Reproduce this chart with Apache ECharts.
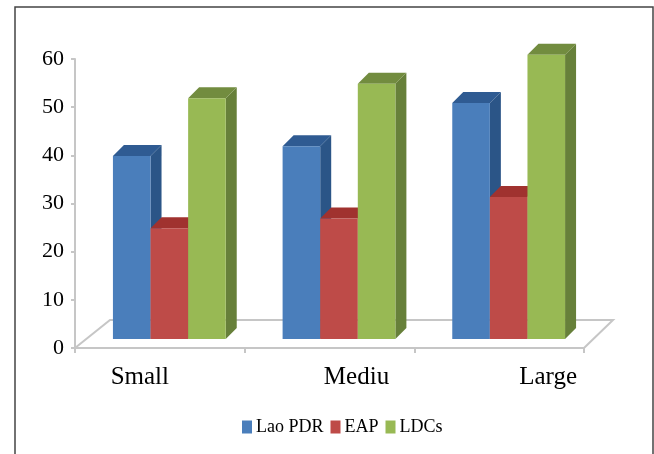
<!DOCTYPE html>
<html>
<head>
<meta charset="utf-8">
<style>html,body{margin:0;padding:0;background:#fff}#chart{width:654px;height:454px}</style>
<script src="https://cdn.jsdelivr.net/npm/echarts@6/dist/echarts.min.js"></script>
</head>
<body>
<div id="chart"></div>
<script>
// Firm size groups and the three country groups compared within each
const categories = ['Small', 'Mediu', 'Large'];
const laoPdr = [38, 40, 49];
const eap = [23, 25, 29.5];
const ldcs = [50, 53, 59];
const yTicks = [0, 60, 10];

const serif = '"Liberation Serif", serif';
const barShift = [9.5, -9];   // bars stand slightly behind the front edge of the floor
const depth = [11, -11];      // oblique extrusion of each column
const barFrac = 0.2216;       // column width as a share of the category band
const labelPad = {
  Small: [0, 40, 0, 0],
  Mediu: [0, 0, 0, 54],
  Large: [0, 0, 0, 98]
};

function column(index, face, side, top) {
  return function (params, api) {
    const p = api.coord([api.value(0), api.value(1)]);
    const base = api.coord([api.value(0), 0]);
    const w = api.size([1, 0])[0] * barFrac;
    const x0 = p[0] + barShift[0] + (index - 1.5) * w;
    const x1 = x0 + w;
    const yt = p[1] + barShift[1];
    const yb = base[1] + barShift[1];
    const dx = depth[0], dy = depth[1];
    return {
      type: 'group',
      children: [
        { type: 'polygon', shape: { points: [[x1, yt], [x1 + dx, yt + dy], [x1 + dx, yb + dy], [x1, yb]] }, style: { fill: side } },
        { type: 'polygon', shape: { points: [[x0, yt], [x0 + dx, yt + dy], [x1 + dx, yt + dy], [x1, yt]] }, style: { fill: top } },
        { type: 'rect', shape: { x: x0, y: yt, width: w, height: yb - yt }, style: { fill: face } }
      ]
    };
  };
}

// Floor of the oblique plot area, sized from the grid rectangle
function floor(params, api) {
  const g = params.coordSys;
  const front = g.y + g.height, back = front - 28;
  const left = g.x, right = g.x + g.width;
  return {
    type: 'polyline',
    shape: { points: [[left, front], [left + 35, back], [right + 29, back], [right, front]] },
    style: { fill: null, stroke: '#c6c6c6', lineWidth: 2 }
  };
}

function columnSeries(name, values, index, face, side, top) {
  return {
    name: name,
    type: 'custom',
    coordinateSystem: 'cartesian2d',
    clip: false,
    z: 3,
    itemStyle: { color: face },
    encode: { x: 0, y: 1 },
    data: values.map((v, i) => [i, v]),
    renderItem: column(index, face, side, top)
  };
}

const chart = echarts.init(document.getElementById('chart'), null, { renderer: 'canvas' });
chart.setOption({
  animation: false,
  backgroundColor: '#fff',
  graphic: [{
    type: 'polyline',
    silent: true,
    shape: { points: [[15, 454], [15, 7], [653, 7], [653, 454]] },
    style: { fill: null, stroke: '#444', lineWidth: 1.5 }
  }],
  grid: { left: 75, right: 70, top: 59, bottom: 106 },
  legend: {
    data: ['Lao PDR', 'EAP', 'LDCs'],
    left: 242,
    top: 418,
    padding: 0,
    icon: 'rect',
    itemWidth: 10,
    itemHeight: 13,
    itemGap: 7,
    textStyle: { fontFamily: serif, fontSize: 18, color: '#000', padding: [0, 0, 0, -1] }
  },
  xAxis: {
    type: 'category',
    data: categories,
    axisLine: { lineStyle: { color: '#c6c6c6', width: 2 } },
    axisTick: { show: true, length: 5, lineStyle: { color: '#c6c6c6', width: 2 } },
    axisLabel: {
      margin: 17,
      interval: 0,
      formatter: v => '{' + v + '|' + v + '}',
      rich: Object.fromEntries(categories.map(c => [c, {
        fontFamily: serif, fontSize: 25, color: '#000', padding: labelPad[c]
      }]))
    }
  },
  yAxis: {
    type: 'value',
    min: yTicks[0],
    max: yTicks[1],
    interval: yTicks[2],
    splitLine: { show: false },
    axisLine: { show: true, lineStyle: { color: '#c6c6c6', width: 2 } },
    axisTick: { show: true, length: 4, lineStyle: { color: '#c6c6c6', width: 2 } },
    axisLabel: { margin: 11, fontFamily: serif, fontSize: 22, color: '#000' }
  },
  series: [
    {
      name: 'floor',
      type: 'custom',
      coordinateSystem: 'cartesian2d',
      clip: false,
      z: 1,
      silent: true,
      encode: { x: 0, y: 1 },
      data: [[0, 0]],
      renderItem: floor
    },
    columnSeries('Lao PDR', laoPdr, 0, '#4a7ebb', '#2b5587', '#2f5b92'),
    columnSeries('EAP', eap, 1, '#be4b48', '#8f2c2a', '#a0322f'),
    columnSeries('LDCs', ldcs, 2, '#98b954', '#67803a', '#728c3f')
  ]
});
</script>
</body>
</html>
